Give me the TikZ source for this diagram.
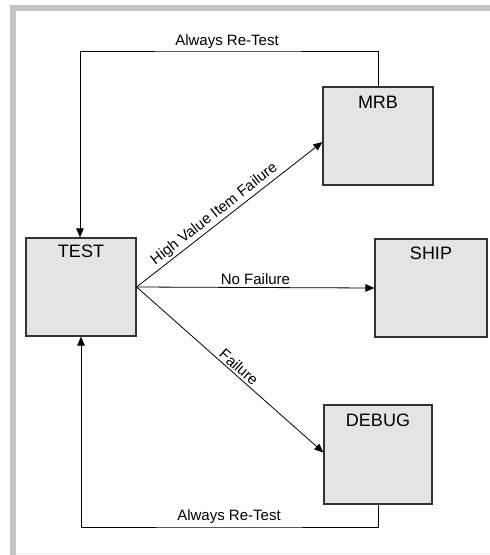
\documentclass[tikz,border=0pt]{standalone}
\usepackage{fontspec}
\setmainfont{Liberation Sans}
\usetikzlibrary{arrows.meta}
\definecolor{boxfill}{HTML}{E4E4E4}
\definecolor{boxline}{HTML}{333333}
\definecolor{framegray}{HTML}{C3C3C3}
\begin{document}
\begin{tikzpicture}[x=1pt,y=-1pt,
  box/.style={draw=boxline, line width=1.2pt, fill=boxfill, minimum width=110pt, minimum height=98pt, inner sep=0pt},
  boxlabel/.style={anchor=north, font=\fontsize{18}{18}\selectfont, inner sep=0pt},
  conn/.style={draw=black, line width=0.8pt},
  arr/.style={conn, -{Triangle[length=9pt,width=7.5pt]}},
  elabel/.style={font=\fontsize{15}{15}\selectfont, inner sep=2pt}]
\useasboundingbox (0,0) rectangle (490,555);
\fill[white] (0,0) rectangle (490,555);
\fill[framegray] (10,5) rectangle (490,11);
\fill[framegray] (10,5) rectangle (16,555);
\draw[black!6, line width=1pt] (16,553.5) -- (490,553.5);

% boxes
\node[box] (test) at (81,287) {};
\node[box] (mrb) at (378,136) {};
\node[box, minimum width=112pt] (ship) at (431,288) {};
\node[box, minimum width=108pt, minimum height=99pt] (debug) at (378,454.5) {};

% box titles
\node[boxlabel] (testlbl) at ([yshift=-7pt]test.north) {TEST};
\node[boxlabel] (mrblbl) at ([yshift=-10pt]mrb.north) {MRB};
\node[boxlabel] (shiplbl) at ([yshift=-8pt]ship.north) {SHIP};
\node[boxlabel] (debuglbl) at ([yshift=-9pt]debug.north) {DEBUG};

% loop coordinates
\coordinate (ctop) at (227,51);
\coordinate (cbot) at (229,527);

% connectors
\draw[arr] (test.east) -- node[elabel, sloped, above, pos=0.45] (lhv) {High Value Item Failure} ([yshift=-6pt]mrb.west);
\draw[arr] (test.east) -- node[elabel, above, pos=0.5] (lnf) {No Failure} (ship.west);
\draw[arr] (test.east) -- node[elabel, sloped, above, pos=0.52] (lf) {Failure} ([yshift=2pt]debug.west);
\draw[arr] (mrb.north) |- (ctop) -| ([xshift=-1pt]test.north);
\draw[arr] (debug.south) |- (cbot) -| (test.south);
\node[elabel, anchor=base, inner sep=0pt] (ltop) at ([yshift=6pt]ctop) {Always Re-Test};
\node[elabel, anchor=base, inner sep=0pt] (lbot) at ([yshift=7pt]cbot) {Always Re-Test};
\end{tikzpicture}
\end{document}
